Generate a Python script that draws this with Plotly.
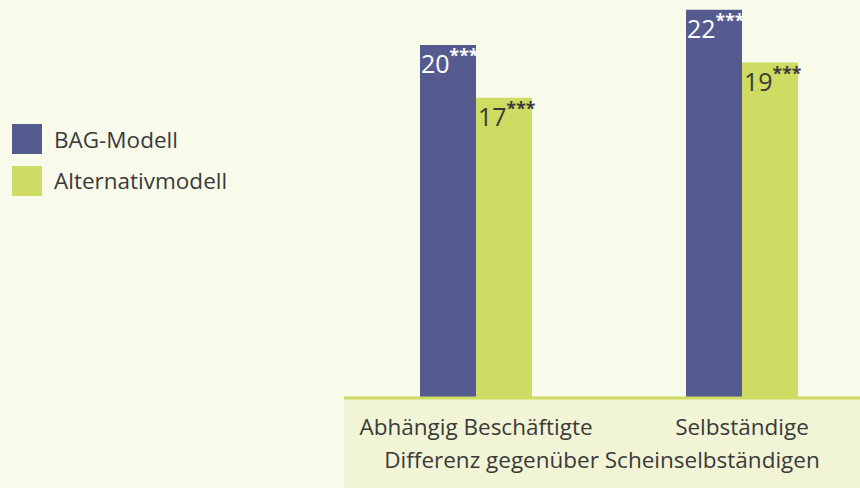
import plotly.graph_objects as go

categories = ["Abhängig Beschäftigte", "Selbständige"]
series_names = ["BAG-Modell", "Alternativmodell"]
bag_values = [20, 22]
alt_values = [17, 19]
significance = ["***", "***"]
axis_title = "Differenz gegenüber Scheinselbständigen"

BG = "#F9FBEA"
BOX = "#F1F5D6"
C_BAG = "#555B8F"
C_ALT = "#CEDC63"
TXT = "#3A3A3A"
FONT = "Open Sans"

W, H = 860, 488
L, B = 344, 91
plot_w = W - L
plot_h = H - B
px_per_unit = 17.6

fig = go.Figure()
fig.add_bar(x=[0, 1], y=bag_values, name=series_names[0], marker_color=C_BAG,
            marker_line_width=0, showlegend=False, hoverinfo="skip")
fig.add_bar(x=[0, 1], y=alt_values, name=series_names[1], marker_color=C_ALT,
            marker_line_width=0, showlegend=False, hoverinfo="skip")

# value labels
for i in range(len(categories)):
    fig.add_annotation(x=i, y=bag_values[i], xref="x", yref="y",
                       text=f"{bag_values[i]}<sup><b>{significance[i]}</b></sup>",
                       showarrow=False, xanchor="left", yanchor="top",
                       xshift=-57, yshift=4,
                       font=dict(family=FONT, size=25, color="white"))
    fig.add_annotation(x=i, y=alt_values[i], xref="x", yref="y",
                       text=f"{alt_values[i]}<sup><b>{significance[i]}</b></sup>",
                       showarrow=False, xanchor="left", yanchor="top",
                       xshift=0, yshift=4,
                       font=dict(family=FONT, size=25, color=TXT))

def px_x(X):
    return (X - L) / plot_w

def px_y(Y):
    return (plot_h - Y) / plot_h

# lower shaded box
fig.add_shape(type="rect", xref="paper", yref="paper",
              x0=0, x1=1, y0=px_y(H + 2), y1=px_y(397),
              fillcolor=BOX, line_width=0, layer="below")
# axis line
fig.add_shape(type="line", xref="paper", yref="paper",
              x0=0, x1=1, y0=px_y(398), y1=px_y(398),
              line=dict(color=C_ALT, width=3))

# manual legend
for k, (name, col) in enumerate(zip(series_names, [C_BAG, C_ALT])):
    top = 124 + k * 42
    fig.add_shape(type="rect", xref="paper", yref="paper",
                  x0=px_x(12), x1=px_x(42), y0=px_y(top + 30), y1=px_y(top),
                  fillcolor=col, line_width=0)
    fig.add_annotation(xref="paper", yref="paper", x=px_x(52), y=px_y(top + 15),
                       text=name, showarrow=False, xanchor="left", yanchor="middle",
                       font=dict(family=FONT, size=22.5, color=TXT))

x0 = -132 / 266
x1 = (W - 476) / 266

fig.update_layout(
    width=W, height=H,
    margin=dict(l=L, r=0, t=0, b=B),
    paper_bgcolor=BG, plot_bgcolor=BG,
    barmode="group", bargap=0.579, bargroupgap=0,
    font=dict(family=FONT, color=TXT),
    xaxis=dict(range=[x0, x1], tickmode="array", tickvals=[0, 1], ticktext=categories,
               showgrid=False, zeroline=False, showline=False, ticks="",
               tickfont=dict(size=22.5, color=TXT), ticklabelstandoff=14,
               title=dict(text=axis_title, font=dict(size=22.5, color=TXT), standoff=11),
               fixedrange=True),
    yaxis=dict(range=[0, plot_h / px_per_unit], visible=False, fixedrange=True),
)

fig.write_html("out.html", config={"displayModeBar": False},
               post_script="document.body.style.margin='0';")
